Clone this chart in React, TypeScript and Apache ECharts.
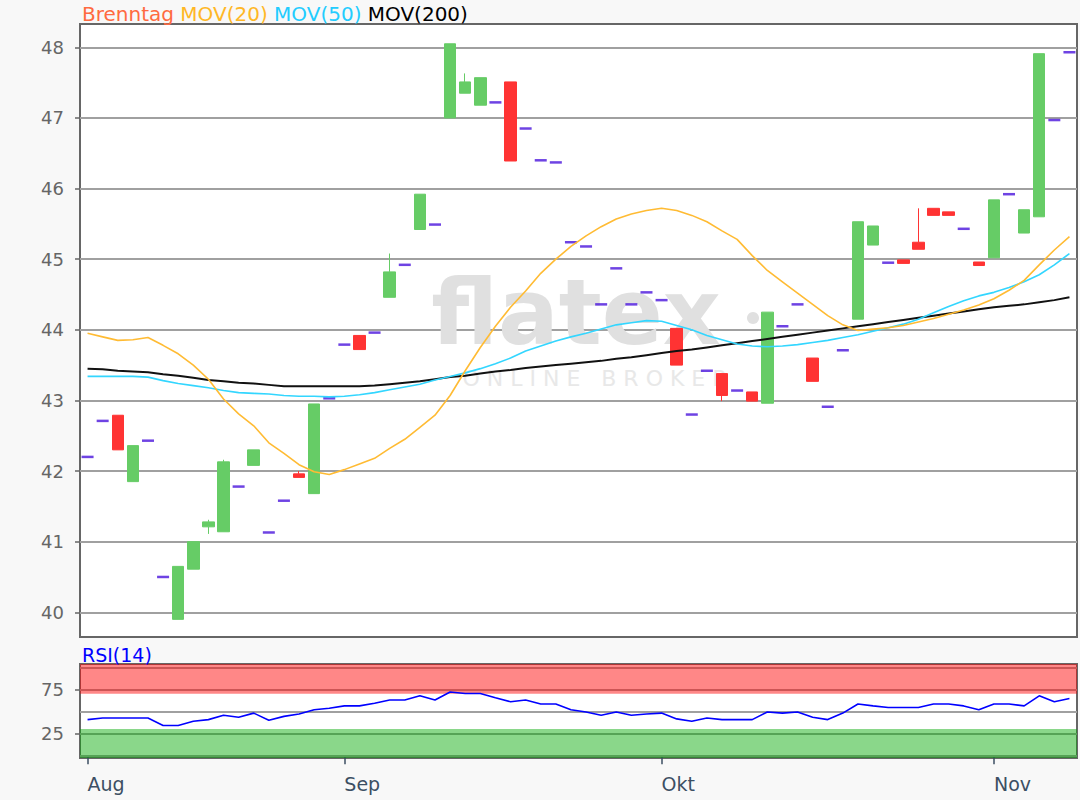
import React, { useEffect, useRef } from 'react';
import * as echarts from 'echarts';

const tradingDays = [
  '2019-08-08', '2019-08-09', '2019-08-12', '2019-08-13', '2019-08-14', '2019-08-15', '2019-08-16',
  '2019-08-19', '2019-08-20', '2019-08-21', '2019-08-22', '2019-08-23', '2019-08-26', '2019-08-27',
  '2019-08-28', '2019-08-29', '2019-08-30',
  '2019-09-02', '2019-09-03', '2019-09-04', '2019-09-05', '2019-09-06', '2019-09-09', '2019-09-10',
  '2019-09-11', '2019-09-12', '2019-09-13', '2019-09-16', '2019-09-17', '2019-09-18', '2019-09-19',
  '2019-09-20', '2019-09-23', '2019-09-24', '2019-09-25', '2019-09-26', '2019-09-27', '2019-09-30',
  '2019-10-01', '2019-10-02', '2019-10-04', '2019-10-07', '2019-10-08', '2019-10-09', '2019-10-10',
  '2019-10-11', '2019-10-14', '2019-10-15', '2019-10-16', '2019-10-17', '2019-10-18', '2019-10-21',
  '2019-10-22', '2019-10-23', '2019-10-24', '2019-10-25', '2019-10-28', '2019-10-29', '2019-10-30',
  '2019-10-31',
  '2019-11-01', '2019-11-04', '2019-11-05', '2019-11-06', '2019-11-07', '2019-11-08',
];

const monthNames: Record<string, string> = { '08': 'Aug', '09': 'Sep', '10': 'Okt', '11': 'Nov' };

// null = day drawn as a close-only dash
const openPrices: (number | null)[] = [
  null, null, 42.79, 41.85, null, null, 39.90, 40.61, 41.21, 41.14,
  null, 42.08, null, null, 41.96, 41.68, null, null, 43.92, null,
  44.46, null, 45.42, null, 47.00, 47.35, 47.18, null, 47.51, null,
  null, null, null, null, null, null, null, null, null, 44.02,
  null, null, 43.38, null, 43.12, 42.96, null, null, 43.60, null,
  null, 44.15, 45.20, null, 44.99, 45.24, 45.72, 45.67, null, 44.96,
  45.02, null, 45.37, 45.60, null, null,
];

const closePrices = [
  42.20, 42.71, 42.30, 42.36, 42.43, 40.50, 40.65, 41.00, 41.28, 42.13,
  41.78, 42.30, 41.13, 41.58, 41.91, 42.95, 43.03, 43.79, 43.72, 43.96,
  44.82, 44.92, 45.92, 45.49, 48.05, 47.51, 47.57, 47.22, 46.39, 46.85,
  46.40, 46.37, 45.24, 45.18, 44.36, 44.87, 44.36, 44.53, 44.42, 43.50,
  42.80, 43.42, 43.07, 43.14, 42.99, 44.25, 44.05, 44.36, 43.27, 42.91,
  43.71, 45.53, 45.47, 44.95, 44.94, 45.14, 45.62, 45.62, 45.43, 44.91,
  45.84, 45.92, 45.70, 47.91, 46.97, 47.93,
];

// only where a wick is visible
const lowPrices: (number | null)[] = [
  null, null, null, null, null, null, null, null, 41.11, null,
  null, null, null, null, null, null, null, null, null, null,
  null, null, null, null, null, null, null, null, null, null,
  null, null, null, null, null, null, null, null, null, null,
  null, null, 42.99, null, null, null, null, null, null, null,
  null, null, null, null, null, null, null, null, null, null,
  null, null, null, null, null, null,
];

const highPrices: (number | null)[] = [
  null, null, null, null, null, null, null, null, 41.31, 42.16,
  null, null, null, null, 42.00, null, null, null, null, null,
  45.08, null, null, null, null, 47.63, null, null, null, null,
  null, null, null, null, null, null, null, null, null, null,
  null, null, null, null, null, null, null, null, null, null,
  null, null, null, null, null, 45.72, null, null, null, null,
  null, null, null, null, null, null,
];

const mov20 = [
  43.95, 43.90, 43.85, 43.86, 43.89, 43.78, 43.66, 43.50, 43.30, 43.02,
  42.81, 42.64, 42.40, 42.25, 42.09, 41.99, 41.95, 42.02, 42.10, 42.18,
  42.32, 42.45, 42.62, 42.79, 43.07, 43.42, 43.75, 44.05, 44.32, 44.55,
  44.80, 45.00, 45.18, 45.33, 45.46, 45.57, 45.64, 45.69, 45.72, 45.69,
  45.62, 45.53, 45.40, 45.28, 45.05, 44.84, 44.68, 44.52, 44.36, 44.20,
  44.07, 43.99, 44.01, 44.03, 44.06, 44.11, 44.16, 44.22, 44.28, 44.35,
  44.44, 44.56, 44.70, 44.92, 45.13, 45.32,
];

const mov50 = [
  43.34, 43.34, 43.34, 43.34, 43.33, 43.28, 43.24, 43.21, 43.18, 43.14,
  43.11, 43.10, 43.09, 43.07, 43.06, 43.06, 43.05, 43.06, 43.08, 43.11,
  43.15, 43.19, 43.23, 43.29, 43.34, 43.39, 43.45, 43.52, 43.60, 43.70,
  43.77, 43.84, 43.90, 43.95, 44.01, 44.07, 44.10, 44.13, 44.12, 44.06,
  44.00, 43.92, 43.86, 43.80, 43.77, 43.76, 43.77, 43.79, 43.82, 43.85,
  43.89, 43.93, 43.98, 44.03, 44.08, 44.15, 44.24, 44.33, 44.41, 44.48,
  44.53, 44.60, 44.68, 44.78, 44.92, 45.08,
];

const mov200 = [
  43.45, 43.44, 43.42, 43.41, 43.40, 43.37, 43.35, 43.32, 43.29, 43.27,
  43.25, 43.24, 43.22, 43.20, 43.20, 43.20, 43.20, 43.20, 43.20, 43.21,
  43.23, 43.25, 43.27, 43.30, 43.33, 43.35, 43.38, 43.41, 43.43, 43.46,
  43.48, 43.50, 43.52, 43.54, 43.56, 43.59, 43.61, 43.64, 43.67, 43.70,
  43.72, 43.75, 43.78, 43.81, 43.84, 43.87, 43.90, 43.93, 43.96, 43.99,
  44.02, 44.05, 44.08, 44.11, 44.14, 44.17, 44.20, 44.23, 44.26, 44.29,
  44.32, 44.34, 44.36, 44.39, 44.42, 44.46,
];

const rsi14 = [
  40.7, 42.6, 42.6, 42.6, 42.6, 34.0, 34.0, 38.9, 40.7, 45.6,
  43.3, 48.1, 40.0, 44.4, 47.0, 51.9, 53.7, 56.3, 56.3, 59.3,
  63.0, 63.0, 67.8, 63.0, 72.2, 70.4, 70.4, 65.6, 61.1, 63.0,
  58.5, 58.5, 51.9, 49.3, 45.6, 49.3, 45.6, 47.0, 48.1, 41.5,
  38.9, 42.6, 40.7, 40.7, 40.7, 49.3, 48.1, 49.3, 43.3, 40.7,
  48.1, 58.5, 56.3, 54.4, 54.4, 54.4, 58.5, 58.5, 56.3, 51.9,
  58.5, 58.5, 56.3, 67.8, 61.1, 64.8,
];

const priceTicks = [40, 41, 42, 43, 44, 45, 46, 47, 48];
const rsiLabelTicks = [25, 75];
const rsiLines = [0, 25, 50, 75, 100];

const FONT = 'DejaVu Sans';

export default function App() {
  const ref = useRef<HTMLDivElement>(null);

  useEffect(() => {
    if (!ref.current) return;
    const chart = echarts.init(ref.current, null, { renderer: 'svg' });

    const candleData = tradingDays.map((_, i) => {
      const o = openPrices[i];
      if (o == null) return ['-', '-', '-', '-'];
      const c = closePrices[i];
      const lo = lowPrices[i] ?? Math.min(o, c);
      const hi = highPrices[i] ?? Math.max(o, c);
      return [o, c, lo, hi];
    });
    const dashData = tradingDays.map((_, i) => (openPrices[i] == null ? closePrices[i] : '-'));

    const isMonthStart = (idx: number) =>
      idx === 0 || tradingDays[idx].slice(5, 7) !== tradingDays[idx - 1].slice(5, 7);

    const option: any = {
      animation: false,
      backgroundColor: '#f8f8f8',
      textStyle: { fontFamily: FONT },
      title: [
        {
          left: 82,
          top: 4,
          padding: 0,
          text: '{a|Brenntag} {b|MOV(20)} {c|MOV(50)} {d|MOV(200)}',
          textStyle: {
            fontSize: 20,
            fontWeight: 'normal',
            fontFamily: FONT,
            rich: {
              a: { color: '#ff6a40', fontSize: 20, fontFamily: FONT },
              b: { color: '#ffb726', fontSize: 20, fontFamily: FONT },
              c: { color: '#22ccff', fontSize: 20, fontFamily: FONT },
              d: { color: '#000000', fontSize: 20, fontFamily: FONT },
            },
          },
        },
        {
          left: 82,
          top: 645,
          padding: 0,
          text: 'RSI(14)',
          textStyle: { color: '#0000ff', fontSize: 19, fontWeight: 'normal', fontFamily: FONT },
        },
      ],
      graphic: [
        {
          type: 'text',
          z: 1,
          silent: true,
          x: 576,
          y: 312,
          style: {
            text: 'flatex',
            fill: '#e0e0e0',
            fontSize: 90,
            fontWeight: 'bold',
            fontFamily: FONT,
            align: 'center',
            verticalAlign: 'middle',
          },
        },
        {
          type: 'circle',
          z: 1,
          silent: true,
          shape: { cx: 753, cy: 318, r: 6 },
          style: { fill: '#e0e0e0' },
        },
        {
          type: 'text',
          z: 1,
          silent: true,
          x: 595,
          y: 378,
          style: {
            text: 'O N L I N E   B R O K E R',
            fill: '#e8e8e8',
            fontSize: 22,
            fontFamily: FONT,
            align: 'center',
            verticalAlign: 'middle',
          },
        },
      ],
      grid: [
        {
          left: 80,
          top: 24,
          right: 3,
          height: 613,
          show: true,
          backgroundColor: '#ffffff',
          borderColor: '#666666',
          borderWidth: 2,
        },
        {
          left: 80,
          top: 664,
          right: 3,
          height: 94,
          show: true,
          backgroundColor: '#ffffff',
          borderColor: '#666666',
          borderWidth: 2,
        },
      ],
      xAxis: [
        {
          type: 'category',
          gridIndex: 0,
          data: tradingDays,
          boundaryGap: true,
          axisLine: { show: false },
          axisTick: { show: false },
          axisLabel: { show: false },
          splitLine: { show: false },
        },
        {
          type: 'category',
          gridIndex: 1,
          data: tradingDays,
          boundaryGap: true,
          axisLine: { show: false },
          axisTick: {
            show: true,
            alignWithLabel: true,
            interval: (i: number) => isMonthStart(i),
            length: 9,
            lineStyle: { color: '#3c4f63', width: 1.5 },
          },
          axisLabel: {
            interval: (i: number) => isMonthStart(i),
            formatter: (v: string) => monthNames[v.slice(5, 7)],
            align: 'left',
            color: '#3c4f63',
            fontSize: 19,
            fontFamily: FONT,
            margin: 16,
          },
          splitLine: { show: false },
        },
      ],
      yAxis: [
        {
          type: 'value',
          gridIndex: 0,
          min: 39.65,
          max: 48.33,
          splitNumber: 8,
          axisLine: { show: false },
          axisTick: {
            show: true,
            customValues: priceTicks,
            length: 5,
            lineStyle: { color: '#666666', width: 1.5 },
          },
          axisLabel: {
            customValues: priceTicks,
            color: '#666666',
            fontSize: 18,
            fontFamily: FONT,
            margin: 16,
            formatter: (v: number) => String(Math.round(v)),
          },
          splitLine: { show: true, lineStyle: { color: '#a0a0a0', width: 2 } },
        },
        {
          type: 'value',
          gridIndex: 1,
          min: -3,
          max: 104,
          axisLine: { show: false },
          axisTick: {
            show: true,
            customValues: rsiLabelTicks,
            length: 5,
            lineStyle: { color: '#666666', width: 1.5 },
          },
          axisLabel: {
            customValues: rsiLabelTicks,
            color: '#666666',
            fontSize: 18,
            fontFamily: FONT,
            margin: 16,
          },
          splitLine: { show: false },
        },
      ],
      series: [
        {
          name: 'Brenntag',
          type: 'candlestick',
          xAxisIndex: 0,
          yAxisIndex: 0,
          data: candleData,
          barWidth: 12,
          z: 3,
          itemStyle: {
            color: '#66cc66',
            color0: '#ff3333',
            borderColor: '#66cc66',
            borderColor0: '#ff3333',
            borderWidth: 1,
          },
        },
        {
          name: 'Close',
          type: 'scatter',
          xAxisIndex: 0,
          yAxisIndex: 0,
          data: dashData,
          symbol: 'rect',
          symbolSize: [12, 2.5],
          z: 3,
          itemStyle: { color: '#4a14dc' },
        },
        {
          name: 'MOV(200)',
          type: 'line',
          xAxisIndex: 0,
          yAxisIndex: 0,
          data: mov200,
          showSymbol: false,
          symbol: 'none',
          z: 4,
          lineStyle: { color: '#111111', width: 2 },
        },
        {
          name: 'MOV(50)',
          type: 'line',
          xAxisIndex: 0,
          yAxisIndex: 0,
          data: mov50,
          showSymbol: false,
          symbol: 'none',
          z: 4,
          lineStyle: { color: '#33d6ff', width: 1.6 },
        },
        {
          name: 'MOV(20)',
          type: 'line',
          xAxisIndex: 0,
          yAxisIndex: 0,
          data: mov20,
          showSymbol: false,
          symbol: 'none',
          z: 4,
          lineStyle: { color: '#ffbb33', width: 1.6 },
        },
        {
          name: 'RSI(14)',
          type: 'line',
          xAxisIndex: 1,
          yAxisIndex: 1,
          data: rsi14,
          showSymbol: false,
          symbol: 'none',
          z: 4,
          lineStyle: { color: '#0000ff', width: 1.6 },
          markLine: {
            silent: true,
            z: 1,
            symbol: ['none', 'none'],
            label: { show: false },
            lineStyle: { color: '#a0a0a0', width: 2, type: 'solid' },
            data: rsiLines.map((v) => ({ yAxis: v })),
          },
          markArea: {
            silent: true,
            z: 2,
            label: { show: false },
            data: [
              [{ yAxis: 70, itemStyle: { color: 'rgba(255,0,0,0.47)' } }, { yAxis: 104 }],
              [{ yAxis: -3, itemStyle: { color: 'rgba(0,168,0,0.46)' } }, { yAxis: 30 }],
            ],
          },
        },
      ],
    };

    chart.setOption(option);
    return () => chart.dispose();
  }, []);

  return (
    <div
      ref={ref}
      style={{ position: 'fixed', left: 0, top: 0, width: 1080, height: 800 }}
    />
  );
}
